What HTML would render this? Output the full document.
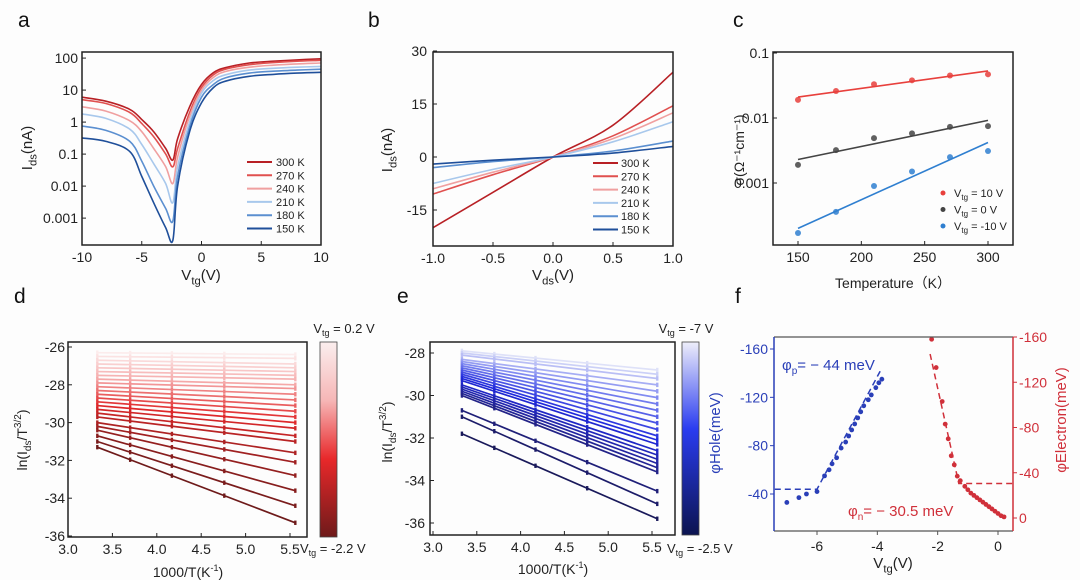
<!DOCTYPE html>
<html><head><meta charset="utf-8">
<style>
html,body{margin:0;padding:0;background:#fdfdfd;}
svg{display:block;font-family:"Liberation Sans",Arial,sans-serif;}
</style></head>
<body>
<svg id="fig" width="1080" height="580" viewBox="0 0 1080 580">
<defs>
<linearGradient id="gradRed" x1="0" y1="0" x2="0" y2="1">
<stop offset="0" stop-color="#fbeeee"/><stop offset="0.3" stop-color="#f6b6b6"/><stop offset="0.6" stop-color="#e8282a"/><stop offset="1" stop-color="#6e1a1a"/>
</linearGradient>
<linearGradient id="gradBlue" x1="0" y1="0" x2="0" y2="1">
<stop offset="0" stop-color="#eeeefa"/><stop offset="0.45" stop-color="#2a3cf0"/><stop offset="1" stop-color="#0c1450"/>
</linearGradient>
</defs>
</svg>
<script>
// ---------- Panel a data ----------
const aX = [-10,-8,-6,-5,-4,-3,-2.4,-2,-1,0,1,2,4,6,8,10];
const aTemps = ["300 K","270 K","240 K","210 K","180 K","150 K"];
const a300 = [6,4.5,2.5,1.2,0.5,0.15,0.065,0.3,3,15,35,50,70,80,88,95];
const a270 = [5,3.8,2,0.9,0.35,0.1,0.04,0.15,2,12,30,45,62,72,80,85];
const a240 = [3,2.2,1.1,0.5,0.15,0.04,0.012,0.08,1.5,10,25,38,52,60,66,70];
const a210 = [1.8,1.3,0.6,0.2,0.05,0.012,0.003,0.04,1,8,20,30,42,48,52,55];
const a180 = [0.75,0.55,0.25,0.06,0.01,0.002,0.0008,0.02,0.7,6,15,24,34,39,42,45];
const a150 = [0.32,0.25,0.12,0.02,0.003,0.0005,0.0002,0.01,0.5,4,12,19,27,31,34,36];
const aYTicks = [100,10,1,0.1,0.01,0.001];
const aYLabels = ["100","10","1","0.1","0.01","0.001"];
const aXTicks = [-10,-5,0,5,10];
// ---------- Panel b data ----------
const bX = [-1,-0.5,0,0.5,1];
const b300 = [-20,-10,0,9,24];
const b270 = [-10.5,-5,0,6,14.5];
const b240 = [-9,-4.3,0,5.2,12.5];
const b210 = [-7.5,-3.5,0,4.3,10];
const b180 = [-3,-1.3,0,1.7,4.5];
const b150 = [-2,-0.9,0,1.1,3];
const bYTicks = [30,15,0,-15];
const bXTicks = [-1,-0.5,0,0.5,1];
const bXLabels = ["-1.0","-0.5","0.0","0.5","1.0"];
// ---------- Panel c data ----------
const cT = [150,180,210,240,270,300];
const cRed = [0.019,0.026,0.033,0.038,0.045,0.047];
const cGray = [0.0019,0.0032,0.0049,0.0058,0.0073,0.0075];
const cBlue = [0.00017,0.00036,0.0009,0.0015,0.0025,0.0031];
const cFitRed = [0.021,0.053];
const cFitGray = [0.0023,0.0092];
const cFitBlue = [0.0002,0.0042];
const cYTicks = [0.1,0.01,0.001];
const cYLabels = ["0.1","0.01","0.001"];
const cXTicks = [150,200,250,300];
// ---------- Panel d data ----------
const dInvT = [3.33,3.70,4.17,4.76,5.56];
const dStart = [-26.3,-26.5,-26.7,-26.9,-27.1,-27.3,-27.5,-27.7,-27.9,-28.1,-28.3,-28.5,-28.7,-28.9,-29.1,-29.3,-29.5,-29.7,-30.0,-30.2,-30.4,-30.7,-31.0,-31.3];
const dEnd = [-26.4,-26.6,-26.9,-27.1,-27.3,-27.5,-27.7,-28.0,-28.2,-28.5,-28.8,-29.1,-29.4,-29.7,-30.0,-30.3,-30.7,-31.0,-31.6,-32.1,-32.8,-33.6,-34.4,-35.3];
const dYTicks = [-26,-28,-30,-32,-34,-36];
const dXTicks = [3.0,3.5,4.0,4.5,5.0,5.5];
// ---------- Panel e data ----------
const eStart = [-27.9,-28.0,-28.1,-28.3,-28.4,-28.5,-28.6,-28.7,-28.8,-28.9,-29.0,-29.1,-29.2,-29.3,-29.5,-29.6,-29.7,-29.8,-29.9,-30.0,-30.7,-31.0,-31.8];
const eEnd = [-28.8,-29.0,-29.2,-29.5,-29.8,-30.1,-30.4,-30.7,-31.0,-31.3,-31.6,-31.9,-32.1,-32.3,-32.6,-32.8,-33.0,-33.2,-33.4,-33.6,-34.5,-35.1,-35.8];
const eYTicks = [-28,-30,-32,-34,-36];
// ---------- Panel f data ----------
const fHoleV = [-7,-6.6,-6.35,-6,-5.75,-5.6,-5.5,-5.35,-5.2,-5.05,-4.95,-4.85,-4.75,-4.65,-4.55,-4.45,-4.3,-4.2,-4.05,-3.95,-3.85];
const fHolePhi = [-33,-37,-40,-42,-55,-60,-65,-70,-78,-83,-88,-93,-98,-103,-108,-113,-118,-122,-128,-132,-135];
const fHoleFitV = [-7.4,-6,-3.9];
const fHoleFitPhi = [-44,-44,-142];
const fElecV = [-2.2,-2.05,-1.85,-1.75,-1.65,-1.55,-1.45,-1.35,-1.25,-1.1,-1.0,-0.9,-0.8,-0.7,-0.6,-0.5,-0.4,-0.3,-0.2,-0.1,0,0.1,0.2];
const fElecPhi = [-158,-133,-103,-83,-70,-55,-47,-37,-33,-28,-25,-22,-20,-18,-16,-14,-12,-10,-8,-6,-4,-2,-1];
const fElecFitV = [-2.25,-1.3,0.5];
const fElecFitPhi = [-145,-30.5,-30.5];
const fLeftTicks = [-160,-120,-80,-40];
const fRightTicks = [-160,-120,-80,-40,0];
const fXTicks = [-6,-4,-2,0];

const NS = "http://www.w3.org/2000/svg";
const svg = document.getElementById("fig");
function el(tag, attrs, parent){
  const e = document.createElementNS(NS, tag);
  for (const k in attrs) e.setAttribute(k, attrs[k]);
  (parent||svg).appendChild(e);
  return e;
}
function lin(d0,d1,r0,r1){return v=>r0+(v-d0)*(r1-r0)/(d1-d0);}
function logs(d0,d1,r0,r1){return v=>r0+(Math.log10(v)-d0)*(r1-r0)/(d1-d0);}
function txt(x,y,s,size,anchor,fill,g){
  const t = el("text",{x:x,y:y,"font-size":size,"text-anchor":anchor||"middle",fill:fill||"#222"},g);
  t.textContent = s; return t;
}
function frame(g,x0,y0,x1,y1,color){
  const r = el("rect",{x:x0,y:y0,width:x1-x0,height:y1-y0,fill:"none",stroke:color||"#222","stroke-width":1.5},g);
  
  
}
function path(g,xs,ys,sx,sy,color,w,dash,smooth){
  const P = xs.map((v,i)=>[sx(v),sy(ys[i])]);
  let d="M"+P[0][0].toFixed(1)+","+P[0][1].toFixed(1);
  for(let i=1;i<P.length;i++){
    if(smooth){
      const p0=P[Math.max(0,i-2)],p1=P[i-1],p2=P[i],p3=P[Math.min(P.length-1,i+1)];
      const c1=[p1[0]+(p2[0]-p0[0])/6,p1[1]+(p2[1]-p0[1])/6];
      const c2=[p2[0]-(p3[0]-p1[0])/6,p2[1]-(p3[1]-p1[1])/6];
      d+="C"+c1[0].toFixed(1)+","+c1[1].toFixed(1)+" "+c2[0].toFixed(1)+","+c2[1].toFixed(1)+" "+p2[0].toFixed(1)+","+p2[1].toFixed(1);
    } else d+="L"+P[i][0].toFixed(1)+","+P[i][1].toFixed(1);
  }
  const p = el("path",{d:d,fill:"none",stroke:color,"stroke-width":w||1.5},g);
  if(dash) p.setAttribute("stroke-dasharray",dash);
  return p;
}
function subLabel(g,x,y,main,sub,rest,size,rot,fill){
  const t = el("text",{x:x,y:y,"font-size":size,"text-anchor":"middle",fill:fill||"#222"},g);
  if(rot) t.setAttribute("transform","rotate(-90 "+x+" "+y+")");
  const a = el("tspan",{},t); a.textContent = main;
  const b = el("tspan",{"font-size":size*0.75,dy:size*0.3},t); b.textContent = sub;
  const c = el("tspan",{dy:-size*0.3},t); c.textContent = rest;
  return t;
}
function panelLetter(s,x,y){
  const t = txt(x,y,s,21,"start","#111");
  
  
}
function interp(stops,k){
  for(let i=1;i<stops.length;i++){
    if(k<=stops[i][0]){
      const a=stops[i-1],b=stops[i],t=(k-a[0])/(b[0]-a[0]);
      return "rgb("+[1,2,3].map(j=>Math.round(a[j]+(b[j]-a[j])*t)).join(",")+")";
    }
  }
  const s=stops[stops.length-1];return "rgb("+s[1]+","+s[2]+","+s[3]+")";
}

// ===== Panel a =====
(function(){
  const g = el("g",{});
  
  
  const x0=82,x1=321,y0=52,y1=245;
  const sx = lin(-10,10,x0,x1), sy = logs(-3.84,2.19,y1,y0);
  const cols=["#b82025","#e0504f","#f0a0a0","#a8c8ec","#5b8fd0","#1f4f9a"];
  const series=[a300,a270,a240,a210,a180,a150];
  const clip = el("clipPath",{id:"clipA"},g);
  el("rect",{x:x0,y:y0,width:x1-x0,height:y1-y0},clip);
  const lg = el("g",{"clip-path":"url(#clipA)"},g);
  series.forEach((s,i)=>{
    const p = path(lg,aX,s,sx,sy,cols[i],1.6,null,true);
    
    
  });
  frame(g,x0,y0,x1,y1);
  aYTicks.forEach((v,i)=>{
    el("line",{x1:x0,x2:x0+4,y1:sy(v),y2:sy(v),stroke:"#222"},g);
    txt(x0-4,sy(v)+5,aYLabels[i],14,"end","#222",g);
  });
  aXTicks.forEach(v=>{
    el("line",{x1:sx(v),x2:sx(v),y1:y1,y2:y1-4,stroke:"#222"},g);
    txt(sx(v),y1+17,String(v),14,"middle","#222",g);
  });
  const xt = subLabel(g,201,280,"V","tg","(V)",15);
  
  
  const yt = subLabel(g,32,148,"I","ds","(nA)",15,true);
  
  
  aTemps.forEach((t,i)=>{
    const yy = 162+i*13.3;
    const l = el("line",{x1:247,x2:272,y1:yy,y2:yy,stroke:cols[i],"stroke-width":2},g);
    
    
    txt(276,yy+4,t,11,"start","#222",g);
  });
})();
panelLetter("a",18,27);

// ===== Panel b =====
(function(){
  const g = el("g",{});
  
  
  const x0=433,x1=673,y0=52,y1=246;
  const sx = lin(-1,1,x0,x1), sy = lin(-15,15,210,104);
  const cols=["#b82025","#e0504f","#f0a0a0","#a8c8ec","#5b8fd0","#1f4f9a"];
  const series=[b300,b270,b240,b210,b180,b150];
  series.forEach((s,i)=>{
    const p = path(g,bX,s,sx,sy,cols[i],1.6,null,true);
    
    
  });
  frame(g,x0,y0,x1,y1);
  bYTicks.forEach(v=>{
    el("line",{x1:x0,x2:x0+4,y1:sy(v),y2:sy(v),stroke:"#222"},g);
    txt(x0-6,sy(v)+5,String(v),14,"end","#222",g);
  });
  bXTicks.forEach((v,i)=>{
    el("line",{x1:sx(v),x2:sx(v),y1:y1,y2:y1-4,stroke:"#222"},g);
    txt(sx(v),y1+17,bXLabels[i],14,"middle","#222",g);
  });
  const xt = subLabel(g,553,280,"V","ds","(V)",15);
  
  
  const yt = subLabel(g,392,150,"I","ds","(nA)",15,true);
  
  
  aTemps.forEach((t,i)=>{
    const yy = 163+i*13.3;
    const l = el("line",{x1:593,x2:618,y1:yy,y2:yy,stroke:cols[i],"stroke-width":2},g);
    
    
    txt(621,yy+4,t,11,"start","#222",g);
  });
})();
panelLetter("b",368,27);

// ===== Panel c =====
(function(){
  const g = el("g",{});
  
  
  const x0=773,x1=1013,y0=52,y1=245;
  const sx = lin(150,300,798,988), sy = logs(-1,-3,53,183);
  const sets=[[cRed,cFitRed,"#e8403c","red"],[cGray,cFitGray,"#444","gray"],[cBlue,cFitBlue,"#2f7fd0","blue"]];
  sets.forEach(s=>{
    const f = path(g,[150,300],s[1],sx,sy,s[2],1.6);
    
    
    s[0].forEach((v,i)=>{
      const c = el("circle",{cx:sx(cT[i]),cy:sy(v),r:3,fill:s[2],opacity:0.85},g);
      
      
    });
  });
  frame(g,x0,y0,x1,y1);
  cYTicks.forEach((v,i)=>{
    el("line",{x1:x0,x2:x0+4,y1:sy(v),y2:sy(v),stroke:"#222"},g);
    txt(x0-4,sy(v)+5,cYLabels[i],14,"end","#222",g);
  });
  cXTicks.forEach(v=>{
    el("line",{x1:sx(v),x2:sx(v),y1:y1,y2:y1-4,stroke:"#222"},g);
    txt(sx(v),y1+17,String(v),14,"middle","#222",g);
  });
  const xt = txt(893,288,"Temperature（K）",14,"middle","#222",g);
  
  
  const yt = el("text",{x:744,y:150,"font-size":14,"text-anchor":"middle",fill:"#222",transform:"rotate(-90 744 150)"},g);
  yt.textContent = "σ(Ω⁻¹cm⁻¹)";
  
  
  const lab=["10 V","0 V","-10 V"];
  sets.forEach((s,i)=>{
    const yy=193+i*16.5;
    const c = el("circle",{cx:943,cy:yy,r:2.5,fill:s[2]},g);
    
    
    const t = el("text",{x:954,y:yy+4,"font-size":11,fill:"#222"},g);
    const a = el("tspan",{},t); a.textContent="V";
    const b = el("tspan",{"font-size":8,dy:3},t); b.textContent="tg";
    const cc = el("tspan",{dy:-3},t); cc.textContent=" = "+lab[i];
  });
})();
panelLetter("c",733,27);

// ===== Panel d/e helper =====
function arrhenius(g,starts,ends,sx,sy,colorFn,name){
  starts.forEach((s,i)=>{
    const k = i/(starts.length-1);
    const col = colorFn(k);
    const x0 = dInvT[0], x1 = dInvT[dInvT.length-1];
    const l = el("line",{x1:sx(x0),y1:sy(s),x2:sx(x1),y2:sy(ends[i]),stroke:col,"stroke-width":1.7},g);
    
    
    dInvT.forEach(xv=>{
      const yv = s+(ends[i]-s)*(xv-x0)/(x1-x0);
      const p = el("rect",{x:sx(xv)-1.2,y:sy(yv)-2.2,width:2.4,height:4.4,fill:col},g);
      
      
    });
  });
}
(function(){
  const g = el("g",{});
  
  
  const x0=68,x1=307,y0=342,y1=537;
  const sx = lin(3.0,5.5,68,290), sy = lin(-26,-36,347,536);
  const stops=[[0,252,236,236],[0.3,245,170,170],[0.6,225,40,42],[1,110,26,26]];
  arrhenius(g,dStart,dEnd,sx,sy,k=>interp(stops,k),"electron");
  frame(g,x0,y0,x1,y1);
  dYTicks.forEach(v=>{
    el("line",{x1:x0,x2:x0+4,y1:sy(v),y2:sy(v),stroke:"#222"},g);
    txt(x0-3,sy(v)+5,String(v),14,"end","#222",g);
  });
  dXTicks.forEach(v=>{
    el("line",{x1:sx(v),x2:sx(v),y1:y1,y2:y1-4,stroke:"#222"},g);
    txt(sx(v),y1+17,v.toFixed(1),14,"middle","#222",g);
  });
  const xt = el("text",{x:188,y:577,"font-size":14,"text-anchor":"middle",fill:"#222"},g);
  xt.innerHTML = '1000/T(K<tspan font-size="9" dy="-6">-1</tspan><tspan dy="6">)</tspan>';
  
  
  const yt = el("text",{x:27,y:440,"font-size":14,"text-anchor":"middle",fill:"#222",transform:"rotate(-90 27 440)"},g);
  yt.innerHTML = 'ln(I<tspan font-size="10" dy="4">ds</tspan><tspan dy="-4">/T</tspan><tspan font-size="10" dy="-6">3/2</tspan><tspan dy="6">)</tspan>';
  
  
  const cb = el("rect",{x:320,y:342,width:17,height:195,fill:"url(#gradRed)",stroke:"#444","stroke-width":0.8},g);
  
  
  const t1 = el("text",{x:344,y:333,"font-size":13,"text-anchor":"middle",fill:"#222"},g);
  t1.innerHTML='V<tspan font-size="9" dy="3">tg</tspan><tspan dy="-3"> = 0.2 V</tspan>';
  const t2 = el("text",{x:300,y:553,"font-size":13,fill:"#222"},g);
  t2.innerHTML='V<tspan font-size="9" dy="3">tg</tspan><tspan dy="-3"> = -2.2 V</tspan>';
})();
panelLetter("d",14,303);

// ===== Panel e =====
(function(){
  const g = el("g",{});
  
  
  const x0=430,x1=675,y0=342,y1=535;
  const sx = lin(3.0,5.5,433,652), sy = lin(-28,-36,353,523);
  const stops=[[0,222,225,248],[0.25,120,130,240],[0.55,30,40,220],[0.85,35,35,140],[1,25,25,90]];
  arrhenius(g,eStart,eEnd,sx,sy,k=>interp(stops,k),"hole");
  frame(g,x0,y0,x1,y1);
  eYTicks.forEach(v=>{
    el("line",{x1:x0,x2:x0+4,y1:sy(v),y2:sy(v),stroke:"#222"},g);
    txt(x0-5,sy(v)+5,String(v),14,"end","#222",g);
  });
  dXTicks.forEach(v=>{
    el("line",{x1:sx(v),x2:sx(v),y1:y1,y2:y1-4,stroke:"#222"},g);
    txt(sx(v),y1+17,v.toFixed(1),14,"middle","#222",g);
  });
  const xt = el("text",{x:553,y:574,"font-size":14,"text-anchor":"middle",fill:"#222"},g);
  xt.innerHTML = '1000/T(K<tspan font-size="9" dy="-6">-1</tspan><tspan dy="6">)</tspan>';
  
  
  const yt = el("text",{x:392,y:432,"font-size":14,"text-anchor":"middle",fill:"#222",transform:"rotate(-90 392 432)"},g);
  yt.innerHTML = 'ln(I<tspan font-size="10" dy="4">ds</tspan><tspan dy="-4">/T</tspan><tspan font-size="10" dy="-6">3/2</tspan><tspan dy="6">)</tspan>';
  
  
  const cb = el("rect",{x:682,y:342,width:17,height:193,fill:"url(#gradBlue)",stroke:"#444","stroke-width":0.8},g);
  
  
  const t1 = el("text",{x:686,y:333,"font-size":13,"text-anchor":"middle",fill:"#222"},g);
  t1.innerHTML='V<tspan font-size="9" dy="3">tg</tspan><tspan dy="-3"> = -7 V</tspan>';
  const t2 = el("text",{x:667,y:553,"font-size":13,fill:"#222"},g);
  t2.innerHTML='V<tspan font-size="9" dy="3">tg</tspan><tspan dy="-3"> = -2.5 V</tspan>';
})();
panelLetter("e",397,303);

// ===== Panel f =====
(function(){
  const g = el("g",{});
  
  
  const x0=774,x1=1013,y0=337,y1=531;
  const sx = lin(-6,0,817,998);
  const syL = lin(-160,-40,349,494);
  const syR = lin(-160,0,337,518);
  const BLUE="#2a3fb8", RED="#d0303a";
  const hf = path(g,fHoleFitV,fHoleFitPhi,sx,syL,BLUE,1.5,"6,4");
  
  
  fHoleV.forEach((v,i)=>{
    const c = el("circle",{cx:sx(v),cy:syL(fHolePhi[i]),r:2.4,fill:BLUE},g);
    
    
  });
  const ef = path(g,fElecFitV,fElecFitPhi,sx,syR,RED,1.5,"6,4");
  
  
  fElecV.forEach((v,i)=>{
    const c = el("circle",{cx:sx(v),cy:syR(fElecPhi[i]),r:2.4,fill:RED},g);
    
    
  });
  el("line",{x1:x0,x2:x1,y1:y0,y2:y0,stroke:"#555","stroke-width":1.2},g);
  el("line",{x1:x0,x2:x1,y1:y1,y2:y1,stroke:"#555","stroke-width":1.2},g);
  el("line",{x1:x0,x2:x0,y1:y0,y2:y1,stroke:BLUE,"stroke-width":1.5},g);
  el("line",{x1:x1,x2:x1,y1:y0,y2:y1,stroke:RED,"stroke-width":1.5},g);
  fLeftTicks.forEach(v=>{
    el("line",{x1:x0,x2:x0-4,y1:syL(v),y2:syL(v),stroke:BLUE},g);
    txt(x0-6,syL(v)+5,String(v),14,"end",BLUE,g);
  });
  fRightTicks.forEach(v=>{
    el("line",{x1:x1,x2:x1+4,y1:syR(v),y2:syR(v),stroke:RED},g);
    txt(x1+6,syR(v)+5,String(v),14,"start",RED,g);
  });
  fXTicks.forEach(v=>{
    el("line",{x1:sx(v),x2:sx(v),y1:y1,y2:y1+4,stroke:"#555"},g);
    txt(sx(v),y1+20,String(v),14,"middle","#222",g);
  });
  const xt = subLabel(g,893,568,"V","tg","(V)",15);
  
  
  const yl = txt(720,433,"φHole(meV)",15,"middle",BLUE,g);
  yl.setAttribute("transform","rotate(-90 720 433)");
  
  
  const yr = txt(1066,420,"φElectron(meV)",15,"middle",RED,g);
  yr.setAttribute("transform","rotate(-90 1066 420)");
  
  
  const a1 = el("text",{x:782,y:370,"font-size":15,fill:BLUE},g);
  a1.innerHTML='φ<tspan font-size="10" dy="4">p</tspan><tspan dy="-4">= − 44 meV</tspan>';
  
  
  const a2 = el("text",{x:848,y:516,"font-size":15,fill:RED},g);
  a2.innerHTML='φ<tspan font-size="10" dy="4">n</tspan><tspan dy="-4">= − 30.5 meV</tspan>';
  
  
})();
panelLetter("f",735,303);
</script>
</body></html>
